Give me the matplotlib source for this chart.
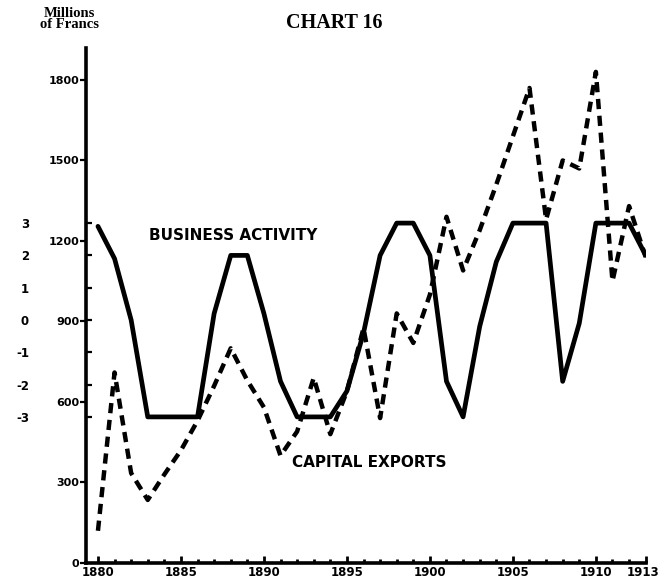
import matplotlib
matplotlib.use("Agg")
import matplotlib.pyplot as plt
import matplotlib.transforms as mtransforms

# ---------------- data ----------------
years = list(range(1880, 1914))
# Business activity index (right-hand scale drawn at far left, -3 .. 3)
business_activity = [2.9, 1.9, 0.0, -3, -3, -3, -3, 0.2, 2.0, 2.0,
                     0.2, -1.9, -3, -3, -3, -2.2, -0.4, 2.0, 3, 3,
                     2.0, -1.9, -3, -0.2, 1.8, 3, 3, 3, -1.9, -0.1,
                     3, 3, 3, 2.0]
# Capital exports, millions of francs
capital_exports = [120, 710, 335, 235, 330, 420, 530, 660, 800, 680,
                   580, 400, 490, 690, 480, 640, 875, 540, 930, 820,
                   1000, 1290, 1090, 1240, 1410, 1590, 1770, 1280, 1500, 1470,
                   1830, 1050, 1330, 1140]

franc_ticks = [0, 300, 600, 900, 1200, 1500, 1800]
index_ticks = [3, 2, 1, 0, -1, -2, -3]
year_ticks = [1880, 1885, 1890, 1895, 1900, 1905, 1910, 1913]

title = "CHART 16"
unit_label = "Millions\nof Francs"
label_business = "BUSINESS ACTIVITY"
label_exports = "CAPITAL EXPORTS"

# ---------------- figure ----------------
W, H = 661, 581
fig = plt.figure(figsize=(W / 100, H / 100), dpi=100)
fig.patch.set_facecolor("white")

left_px, right_px, bottom_px, top_px = 86, 646, 563, 48
ax = fig.add_axes([left_px / W, (H - bottom_px) / H,
                   (right_px - left_px) / W, (bottom_px - top_px) / H])
ax2 = ax.twinx()

sans = "DejaVu Sans"
serif = "Liberation Serif"

# capital exports (dashed)
ax.plot(years, capital_exports, color="black", lw=3.2, linestyle=(0, (2.3, 1.5)),
        dash_capstyle="butt", solid_joinstyle="round", zorder=3)
# business activity (solid)
ax2.plot(years, business_activity, color="black", lw=3.4,
         solid_joinstyle="round", solid_capstyle="round", zorder=3)

ax.set_xlim(1879.28, 1913.02)
ax.set_ylim(0, 1919)
ax2.set_ylim((320 - 563) / 32.3, (320 - 48) / 32.3)

for a in (ax, ax2):
    a.spines["top"].set_visible(False)
    a.spines["right"].set_visible(False)
    a.patch.set_visible(False)
ax2.spines["left"].set_visible(False)
ax2.spines["bottom"].set_visible(False)
ax.spines["left"].set_linewidth(2.6)
ax.spines["bottom"].set_linewidth(2.6)

# x axis
ax.set_xticks(year_ticks)
ax.set_xticklabels([str(y) for y in year_ticks], fontsize=8.5, fontweight="bold",
                   family=sans)
ax.set_xticks(years, minor=True)
ax.tick_params(axis="x", which="major", direction="in", length=5, width=2, pad=2.5)
ax.tick_params(axis="x", which="minor", direction="in", length=3, width=2)
# keep the last label inside the figure
last = ax.get_xticklabels()[-1]
last.set_transform(last.get_transform() +
                   mtransforms.ScaledTranslation(-3 / 100, 0, fig.dpi_scale_trans))

# primary y axis (francs)
ax.set_yticks(franc_ticks)
ax.set_yticklabels([str(v) for v in franc_ticks], fontsize=8, fontweight="bold",
                   family=sans)
ax.tick_params(axis="y", which="major", direction="out", length=4, width=1.6, pad=1)

# index scale on far left
ax2.yaxis.tick_left()
ax2.set_yticks(index_ticks)
ax2.set_yticklabels([str(v) for v in index_ticks], fontsize=8.5, fontweight="bold",
                    family=sans)
ax2.tick_params(axis="y", which="major", direction="in", length=4, width=1.6, pad=41)
ax2.tick_params(axis="x", bottom=False, labelbottom=False)

# series labels
ax.text(1883.1, 1222, label_business, fontsize=11, fontweight="bold",
        family=sans, ha="left", va="center")
ax.text(1891.7, 376, label_exports, fontsize=11, fontweight="bold",
        family=sans, ha="left", va="center")

# title & unit label
fig.text(334 / W, 1 - 23 / H, title, fontsize=14.5, fontweight="bold",
         family=serif, ha="center", va="center")
fig.text(69 / W, 1 - 19 / H, unit_label, fontsize=10.5, fontweight="bold",
         family=serif, ha="center", va="center", linespacing=0.85)

fig.savefig("out.png", dpi=100, facecolor="white")
